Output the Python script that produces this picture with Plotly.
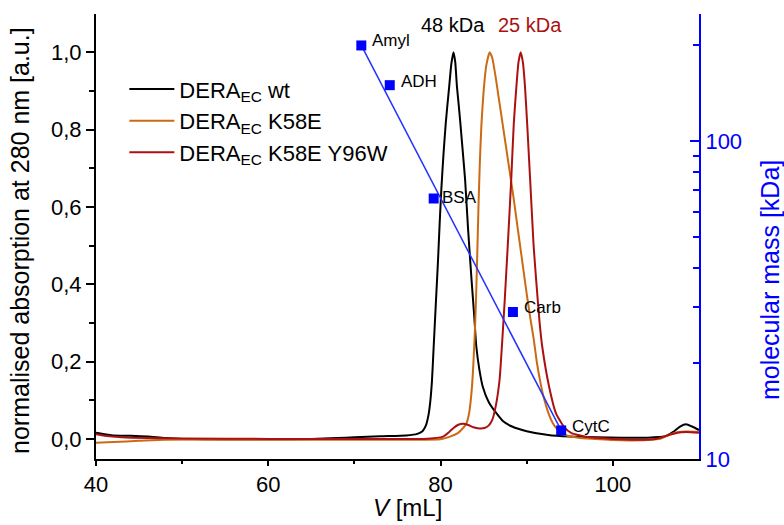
import math
import plotly.graph_objects as go

# ---------------- data ----------------
wt_v = [40, 41, 42, 44, 46, 48, 50, 55, 60, 65, 68, 70, 73, 76, 77.3, 77.9, 78.3, 78.6, 78.8, 79.0,
        79.2, 79.45, 79.7, 79.9, 80.1, 80.35, 80.6, 80.8, 81.0, 81.25, 81.5, 81.7, 81.9, 82.1, 82.3,
        82.55, 82.85, 83.2, 83.6, 83.9, 84.15, 84.5, 84.9, 85.6, 86.5, 87.3, 88.3, 90.0, 92.5, 95,
        98, 101, 104, 106, 107, 107.8, 108.5, 109.2, 110]
wt_a = [0.016, 0.012, 0.009, 0.008, 0.006, 0.002, 0.000, -0.001, -0.001, 0.000, 0.002, 0.004, 0.007,
        0.009, 0.013, 0.020, 0.035, 0.062, 0.095, 0.150, 0.239, 0.350, 0.460, 0.560, 0.650, 0.740,
        0.816, 0.865, 0.911, 0.970, 1.000, 0.975, 0.911, 0.865, 0.816, 0.750, 0.670, 0.540, 0.410,
        0.320, 0.239, 0.180, 0.135, 0.095, 0.066, 0.045, 0.032, 0.020, 0.010, 0.006, 0.004, 0.003,
        0.003, 0.006, 0.018, 0.032, 0.038, 0.032, 0.023]

k58e_v = [40, 42, 45, 48, 55, 65, 75, 80, 81.1, 82.0, 82.4, 83.0, 83.3, 83.55, 83.75, 83.95, 84.1,
          84.25, 84.4, 84.55, 84.75, 85.0, 85.3, 85.7, 86.0, 86.4, 86.8, 87.2, 87.6, 88.0, 88.4,
          88.8, 89.2, 89.6, 90.0, 90.4, 90.8, 91.2, 91.6, 92.0, 92.5, 93.0, 93.6, 94.5, 96.0, 98,
          100, 102, 104, 105.5, 106.5, 107.5, 108.5, 110]
k58e_a = [-0.010, -0.008, -0.005, -0.002, -0.002, -0.002, -0.002, -0.001, 0.006, 0.015, 0.023,
          0.040, 0.065, 0.110, 0.170, 0.260, 0.350, 0.470, 0.600, 0.710, 0.816, 0.900, 0.965, 1.000,
          0.985, 0.935, 0.875, 0.815, 0.755, 0.695, 0.635, 0.570, 0.505, 0.440, 0.375, 0.315, 0.260,
          0.195, 0.145, 0.105, 0.068, 0.042, 0.024, 0.010, 0.003, 0.000, -0.003, -0.004, -0.003,
          0.000, 0.010, 0.017, 0.019, 0.018]

y96w_v = [40, 41, 43, 46, 50, 60, 70, 78, 80.3, 81.0, 81.5, 82.0, 82.6, 83.2, 83.8, 84.5, 85.1,
          85.6, 86.0, 86.4, 86.85, 87.15, 87.45, 87.8, 88.2, 88.5, 88.8, 89.05, 89.3, 89.55, 89.8,
          90.05, 90.4, 90.8, 91.1, 91.5, 91.8, 92.6, 93.4, 94.3, 95.2, 97.3, 100, 103, 105, 106.5,
          107.5, 108.5, 110]
y96w_a = [0.012, 0.008, 0.004, 0.002, 0.001, 0.000, 0.000, 0.000, 0.006, 0.018, 0.028, 0.036, 0.039,
          0.036, 0.030, 0.027, 0.028, 0.035, 0.049, 0.084, 0.153, 0.250, 0.360, 0.500, 0.670, 0.816,
          0.911, 0.975, 1.000, 0.975, 0.911, 0.816, 0.670, 0.500, 0.410, 0.300, 0.239, 0.135, 0.066,
          0.032, 0.015, 0.004, 0.000, -0.002, 0.000, 0.010, 0.016, 0.018, 0.016]

cal_names = ["Amyl", "ADH", "BSA", "Carb", "CytC"]
cal_v = [70.8, 74.1, 79.2, 88.4, 94.0]
cal_mass = [200, 150, 66, 29, 12.3]

fit_v = [70.8, 94.0]
fit_mass = [200, 12.3]

left_ticks = [0.0, 0.2, 0.4, 0.6, 0.8, 1.0]
left_ticktext = ["0,0", "0,2", "0,4", "0,6", "0,8", "1,0"]
left_minor = [0.1, 0.3, 0.5, 0.7, 0.9]
x_ticks = [40, 60, 80, 100]
x_minor = [50, 70, 90]
right_ticks = [10, 100]
right_minor = [20, 30, 40, 50, 60, 70, 80, 90, 200]

# ---------------- figure ----------------
FONT = "Arial, Liberation Sans, sans-serif"
BLACK = "#000000"
ORANGE = "#CC6A14"
DRED = "#AA1111"
BLUE = "#0000FF"

fig = go.Figure()
fig.add_trace(go.Scatter(x=wt_v, y=wt_a, mode="lines", name="DERA<sub>EC</sub> wt",
                         line=dict(color=BLACK, width=2, shape="spline", smoothing=0.5)))
fig.add_trace(go.Scatter(x=k58e_v, y=k58e_a, mode="lines", name="DERA<sub>EC</sub> K58E",
                         line=dict(color=ORANGE, width=2, shape="spline", smoothing=0.5)))
fig.add_trace(go.Scatter(x=y96w_v, y=y96w_a, mode="lines", name="DERA<sub>EC</sub> K58E Y96W",
                         line=dict(color=DRED, width=2, shape="spline", smoothing=0.5)))
fig.add_trace(go.Scatter(x=fit_v, y=fit_mass, mode="lines", yaxis="y2", showlegend=False,
                         line=dict(color="#2233FF", width=1.5)))
fig.add_trace(go.Scatter(x=cal_v, y=cal_mass, mode="markers", yaxis="y2", showlegend=False,
                         marker=dict(symbol="square", size=10, color=BLUE)))

label_shift = {"Amyl": (9, 5), "ADH": (9, 4), "BSA": (6, 1), "Carb": (9, 5), "CytC": (9, 4)}
for n, v, m in zip(cal_names, cal_v, cal_mass):
    dx, dy = label_shift[n]
    fig.add_annotation(x=v, y=math.log10(m), xref="x", yref="y2", text=n, showarrow=False,
                       xanchor="left", yanchor="middle", xshift=dx, yshift=dy,
                       font=dict(family=FONT, size=17, color=BLACK))

fig.add_annotation(x=81.4, y=0.975, xref="x", yref="paper", text="48 kDa", showarrow=False,
                   xanchor="center", yanchor="middle",
                   font=dict(family=FONT, size=20, color=BLACK))
fig.add_annotation(x=90.35, y=0.975, xref="x", yref="paper", text="25 kDa", showarrow=False,
                   xanchor="center", yanchor="middle",
                   font=dict(family=FONT, size=20, color=DRED))

fig.add_annotation(x=-0.126, y=0.49, xref="paper", yref="paper", textangle=-90,
                   xanchor="center", yanchor="middle",
                   text="normalised absorption at 280 nm [a.u.]", showarrow=False,
                   font=dict(family=FONT, size=25, color=BLACK))
fig.add_annotation(x=1.1177, y=0.402, xref="paper", yref="paper", textangle=-90,
                   xanchor="center", yanchor="middle",
                   text="molecular mass [kDa]", showarrow=False,
                   font=dict(family=FONT, size=25, color=BLUE))
fig.add_annotation(x=0.517, y=-0.108, xref="paper", yref="paper",
                   xanchor="center", yanchor="middle",
                   text="<i>V</i> [mL]", showarrow=False,
                   font=dict(family=FONT, size=24, color=BLACK))

fig.update_layout(
    width=784, height=525,
    margin=dict(l=96, r=85, t=14, b=66),
    paper_bgcolor="white", plot_bgcolor="white",
    font=dict(family=FONT, size=22, color=BLACK),
    showlegend=True,
    legend=dict(x=0.047, y=0.878, xanchor="left", yanchor="top", itemwidth=45,
                font=dict(family=FONT, size=22, color=BLACK),
                bgcolor="rgba(0,0,0,0)", borderwidth=0),
    xaxis=dict(range=[40, 110], showline=True, linecolor=BLACK, linewidth=2,
               ticks="outside", tickvals=x_ticks, ticklen=5, tickwidth=1.5, tickcolor=BLACK,
               minor=dict(tickvals=x_minor, ticks="outside", ticklen=3, tickwidth=1.5, tickcolor=BLACK),
               showgrid=False, zeroline=False, tickfont=dict(size=22)),
    yaxis=dict(range=[-0.052, 1.099], showline=True, linecolor=BLACK, linewidth=2,
               ticks="outside", tickvals=left_ticks, ticktext=left_ticktext, ticklen=8,
               tickwidth=1.5, tickcolor=BLACK,
               minor=dict(tickvals=left_minor, ticks="outside", ticklen=5, tickwidth=1.5, tickcolor=BLACK),
               showgrid=False, zeroline=False, tickfont=dict(size=22)),
    yaxis2=dict(type="log", range=[1, 2.4], overlaying="y", side="right", showline=True,
                linecolor=BLUE, linewidth=2, ticks="inside", tickvals=right_ticks,
                ticktext=["10", "100"], ticklen=9, tickwidth=1.5, tickcolor=BLUE,
                minor=dict(tickvals=right_minor, ticks="inside", ticklen=6, tickwidth=1.5, tickcolor=BLUE),
                showgrid=False, zeroline=False, tickfont=dict(size=22, color=BLUE)),
)

fig.write_html("out.html", config={"displayModeBar": False},
               post_script="document.body.style.margin='0px';document.body.style.overflow='hidden';")
